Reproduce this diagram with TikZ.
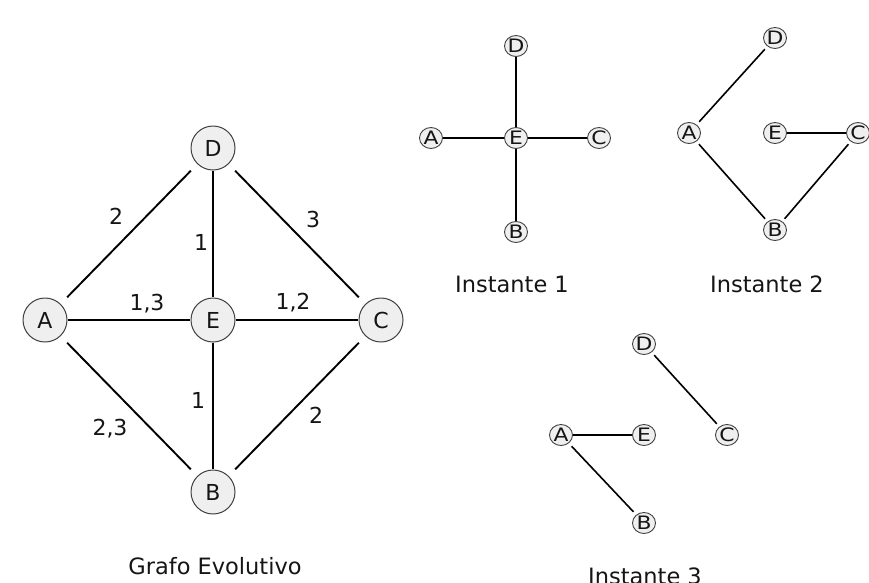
\documentclass[tikz,border=0pt]{standalone}
\usepackage{fontspec}
\setmainfont{DejaVu Sans}
\usepackage{graphicx}
\definecolor{vfill}{HTML}{EFEFEF}
\definecolor{vborder}{HTML}{404040}
\definecolor{txt}{HTML}{151515}
\newcommand\widel[1]{\scalebox{1.18}[1]{#1}}
\begin{document}
\begin{tikzpicture}[x=1pt,y=-1pt,
  bigv/.style={rectangle, minimum size=45pt, inner sep=0pt, text=txt,
    font=\fontsize{22}{22}\selectfont,
    path picture={\path[fill=vfill,draw=vborder,line width=1pt]
      (path picture bounding box.center) circle[radius=22pt];}},
  smallv/.style={rectangle, minimum width=24pt, minimum height=22pt, inner sep=0pt, text=txt,
    font=\fontsize{18.5}{18.5}\selectfont,
    path picture={\path[fill=vfill,draw=vborder,line width=0.9pt]
      (path picture bounding box.center) ellipse[x radius=11.5pt, y radius=10.5pt];}},
  bigedge/.style={draw=black, line width=1.9pt},
  smalledge/.style={draw=black, line width=1.6pt},
  lbl/.style={anchor=base, inner sep=0pt, text=txt, font=\fontsize{22}{22}\selectfont},
  title/.style={anchor=base, inner sep=0pt, text=txt, font=\fontsize{22.5}{22.5}\selectfont}]
\useasboundingbox (0,0) rectangle (869,582);

% ---- Grafo evolutivo ----
\node[bigv] (A) at (45,320) {A};
\node[bigv] (D) at (213,148) {D};
\node[bigv] (E) at (213,320) {E};
\node[bigv] (C) at (381,320) {C};
\node[bigv] (B) at (213,492) {B};
\draw[bigedge] (A) -- (D);
\draw[bigedge] (D) -- (E);
\draw[bigedge] (D) -- (C);
\draw[bigedge] (A) -- (E);
\draw[bigedge] (E) -- (C);
\draw[bigedge] (E) -- (B);
\draw[bigedge] (A) -- (B);
\draw[bigedge] (C) -- (B);
\node[lbl] (l1) at (116,224) {2};
\node[lbl] (l2) at (201,250) {1};
\node[lbl] (l3) at (313,227) {3};
\node[lbl] (l4) at (147,310) {1,3};
\node[lbl] (l5) at (293,309) {1,2};
\node[lbl] (l6) at (198,408) {1};
\node[lbl] (l7) at (110,435) {2,3};
\node[lbl] (l8) at (316,423) {2};
\node[title] (t0) at (215,574) {Grafo Evolutivo};

% ---- Instante 1 ----
\node[smallv] (A1) at (431,138) {\widel{A}};
\node[smallv] (D1) at (516,46) {\widel{D}};
\node[smallv] (E1) at (516,138) {\widel{E}};
\node[smallv] (C1) at (599,138) {\widel{C}};
\node[smallv] (B1) at (516,232) {\widel{B}};
\draw[smalledge] (A1) -- (E1);
\draw[smalledge] (E1) -- (C1);
\draw[smalledge] (D1) -- (E1);
\draw[smalledge] (E1) -- (B1);
\node[title] (t1) at (512,292) {Instante 1};

% ---- Instante 2 ----
\node[smallv] (A2) at (689,133) {\widel{A}};
\node[smallv] (D2) at (775,38) {\widel{D}};
\node[smallv] (E2) at (775,133) {\widel{E}};
\node[smallv] (C2) at (858,133) {\widel{C}};
\node[smallv] (B2) at (775,230) {\widel{B}};
\draw[smalledge] (A2) -- (D2);
\draw[smalledge] (E2) -- (C2);
\draw[smalledge] (A2) -- (B2);
\draw[smalledge] (B2) -- (C2);
\node[title] (t2) at (767,292) {Instante 2};

% ---- Instante 3 ----
\node[smallv] (A3) at (561,435) {\widel{A}};
\node[smallv] (D3) at (644,344) {\widel{D}};
\node[smallv] (E3) at (644,435) {\widel{E}};
\node[smallv] (C3) at (727,435) {\widel{C}};
\node[smallv] (B3) at (644,523) {\widel{B}};
\draw[smalledge] (A3) -- (E3);
\draw[smalledge] (D3) -- (C3);
\draw[smalledge] (A3) -- (B3);
\node[title] (t3) at (645,584) {Instante 3};
\end{tikzpicture}
\end{document}
